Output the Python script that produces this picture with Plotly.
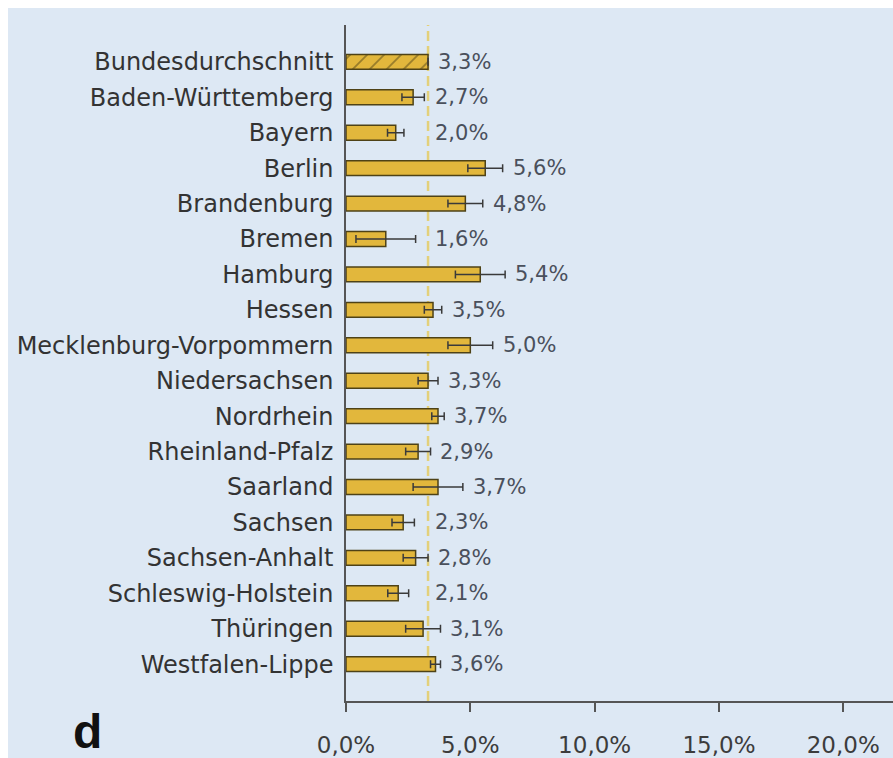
import plotly.graph_objects as go

categories = ["Bundesdurchschnitt", "Baden-Württemberg", "Bayern", "Berlin", "Brandenburg",
              "Bremen", "Hamburg", "Hessen", "Mecklenburg-Vorpommern", "Niedersachsen",
              "Nordrhein", "Rheinland-Pfalz", "Saarland", "Sachsen", "Sachsen-Anhalt",
              "Schleswig-Holstein", "Thüringen", "Westfalen-Lippe"]
values = [3.3, 2.7, 2.0, 5.6, 4.8, 1.6, 5.4, 3.5, 5.0, 3.3, 3.7, 2.9, 3.7, 2.3, 2.8, 2.1, 3.1, 3.6]
errors = [0.0, 0.45, 0.33, 0.7, 0.7, 1.2, 1.0, 0.35, 0.9, 0.4, 0.25, 0.5, 1.0, 0.45, 0.5, 0.42, 0.7, 0.2]
average = 3.3
tick_values = [0, 5, 10, 15, 20]
tick_labels = ["0,0%", "5,0%", "10,0%", "15,0%", "20,0%"]
panel_label = "d"

# page has an 8px body margin; the figure itself is the blue panel
W, H = 885, 750
ML, MR, MT, MB = 338, 0, 17, 54
pw, ph = W - ML - MR, H - MT - MB

BG = "#dde8f4"
GOLD = "#e2b73c"
EDGE = "#4e4216"

patterns = ["/" if i == 0 else "" for i in range(len(categories))]

fig = go.Figure()
fig.add_trace(go.Bar(
    y=categories, x=values, orientation="h", width=0.42,
    marker=dict(color=GOLD, line=dict(color=EDGE, width=1.5),
                pattern=dict(shape=patterns, fgcolor=EDGE, bgcolor=GOLD, size=12, solidity=0.15)),
    error_x=dict(type="data", array=errors, visible=True, color="#3a3a3a", thickness=1.5, width=4),
    hoverinfo="skip",
))

annotations = []
for c, v, e in zip(categories, values, errors):
    lx = max(v + e + 0.32, 3.5)
    annotations.append(dict(x=lx, y=c, xref="x", yref="y", text=f"{v:.1f}".replace(".", ",") + "%",
                            showarrow=False, xanchor="left", yanchor="middle",
                            font=dict(family="DejaVu Sans", size=21, color="#4a505c")))

annotations.append(dict(x=(79 - ML) / pw, y=(H - MB - 727) / ph, xref="paper", yref="paper",
                        text=f"<b>{panel_label}</b>", showarrow=False, xanchor="center", yanchor="middle",
                        font=dict(family="Liberation Sans", size=48, color="#111111")))

shapes = [
    dict(type="line", xref="x", yref="paper", x0=average, x1=average, y0=0, y1=1,
         line=dict(color="#e3d07a", width=2.5, dash="10px,5px"), layer="below"),
]

fig.update_layout(
    width=W, height=H,
    margin=dict(l=ML, r=MR, t=MT, b=MB),
    paper_bgcolor=BG, plot_bgcolor=BG,
    showlegend=False,
    annotations=annotations, shapes=shapes,
    xaxis=dict(range=[0, 22.0], tickmode="array", tickvals=tick_values, ticktext=tick_labels,
               showgrid=False, zeroline=False, showline=True, linecolor="#555555", linewidth=1.5,
               ticks="outside", ticklen=9, tickwidth=1.5, tickcolor="#555555",
               ticklabelstandoff=14,
               tickfont=dict(family="DejaVu Sans", size=23, color="#3c3c3c")),
    yaxis=dict(type="category", categoryorder="array", categoryarray=categories,
               range=[18.04, -1.04], showgrid=False, zeroline=False,
               showline=True, linecolor="#555555", linewidth=1.5, ticks="",
               ticklabelstandoff=6,
               tickfont=dict(family="DejaVu Sans", size=24, color="#333333")),
)

post = ("document.body.style.margin='8px 0 0 8px';"
        "document.body.style.overflow='hidden';"
        "document.documentElement.style.overflow='hidden';")
fig.write_html("out.html", post_script=post)
